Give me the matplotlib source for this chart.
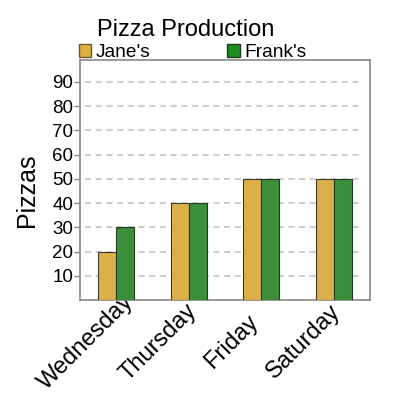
import matplotlib
matplotlib.use("Agg")
import matplotlib.pyplot as plt
import matplotlib.transforms as mtransforms
from matplotlib.patches import Patch

days = ["Wednesday", "Thursday", "Friday", "Saturday"]
jane = [20, 40, 50, 50]
frank = [30, 40, 50, 50]
yticks = [10, 20, 30, 40, 50, 60, 70, 80, 90]

plt.rcParams['font.family'] = ['Liberation Sans', 'DejaVu Sans']

fig = plt.figure(figsize=(4, 4), dpi=100)
ax = fig.add_axes([0.2, 0.25, 0.725, 0.6])

jc = "#DDAF48"
fc = "#3B8F3B"
x = list(range(len(days)))
w = 0.25
ax.bar([i - w / 2 for i in x], jane, width=w, color=jc, edgecolor="#3a3a2a", linewidth=0.8, zorder=3)
ax.bar([i + w / 2 for i in x], frank, width=w, color=fc, edgecolor="#1f3a1f", linewidth=0.8, zorder=3)

for y in yticks:
    ax.axhline(y, xmin=0.017, xmax=0.97, color="#c0c0c0", linewidth=1.1,
               dashes=(4, 3), zorder=1)

ax.set_xlim(-0.5, 3.5)
ax.set_ylim(0, 99)
ax.set_yticks(yticks)
ax.set_yticklabels([str(v) for v in yticks], fontsize=13.5)
ax.tick_params(axis='y', length=4, width=1, color="#888888", pad=1)
ax.set_xticks(x)
ax.set_xticklabels(days, fontsize=17, rotation=45, ha='center', va='center',
                   rotation_mode='default')
ax.tick_params(axis='x', length=0, pad=0)
offset = mtransforms.ScaledTranslation(-30 / 100, -42 / 100, fig.dpi_scale_trans)
for lab in ax.get_xticklabels():
    lab.set_transform(lab.get_transform() + offset)

for s in ax.spines.values():
    s.set_color("#888888")
    s.set_linewidth(1.2)

ax.set_ylabel("Pizzas", fontsize=18)
ax.yaxis.set_label_coords(-0.142, 0.458)

fig.text(0.465, 1 - 36 / 400, "Pizza Production", fontsize=17, ha='center', va='baseline')

handles = [Patch(facecolor="#DDB040", edgecolor="#6b5a30", label="Jane's"),
           Patch(facecolor="#1E8C1E", edgecolor="#1f3a1f", label="Frank's")]
ax.legend(handles=handles, ncol=2, loc='lower left', bbox_to_anchor=(-0.005, 0.995),
          borderaxespad=0, frameon=False, fontsize=13.8, handlelength=0.65,
          handleheight=0.65, handletextpad=0.25, columnspacing=4.0, borderpad=0)

fig.savefig("out.png", dpi=100)
